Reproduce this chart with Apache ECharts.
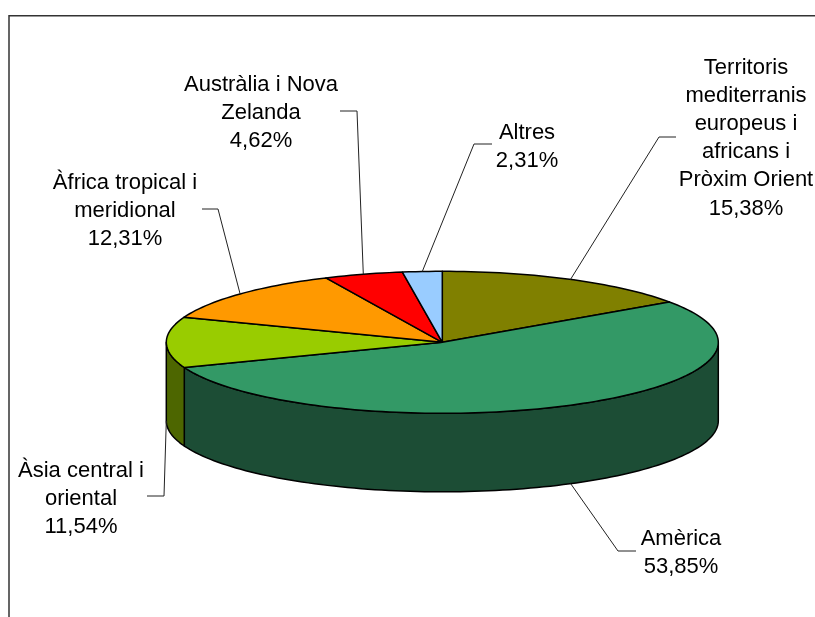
<!DOCTYPE html>
<html>
<head>
<meta charset="utf-8">
<style>html,body{margin:0;padding:0;background:#fff}#chart{width:815px;height:617px}</style>
<script src="https://cdn.jsdelivr.net/npm/echarts@6/dist/echarts.min.js"></script>
</head>
<body>
<div id="chart"></div>
<script>
// Share of each region, clockwise from the top of the disc
const categories = [
  'Territoris\nmediterranis\neuropeus i\nafricans i\nPròxim Orient',
  'Amèrica',
  'Àsia central i\noriental',
  'Àfrica tropical i\nmeridional',
  'Austràlia i Nova\nZelanda',
  'Altres'
];
const shares = [15.38, 53.85, 11.54, 12.31, 4.62, 2.31];
const shareLabels = ['15,38%', '53,85%', '11,54%', '12,31%', '4,62%', '2,31%'];

const topColors = ['#808000', '#339966', '#99CC00', '#FF9900', '#FF0000', '#99CCFF'];
const wallColors = ['#404000', '#1C4D35', '#4D6600', '#804D00', '#800000', '#4D6680'];

// Disc geometry in pixels
const disc = { cx: 442.3, cy: 342.3, rx: 276, ry: 71, depth: 78.5 };

// Label centre and leader elbow/end for each slice
const labelCentres = [[746, 138], [681, 553], [81, 499], [125, 211], [261, 113], [527, 147]];
const leaderBends = [
  [[659, 137], [676, 137]],
  [[618, 551], [636, 551]],
  [[164, 496], [147, 496]],
  [[218, 209], [202, 209]],
  [[357, 111], [340, 111]],
  [[474, 144], [492, 144]]
];

const total = shares.reduce((a, b) => a + b, 0);

function rimPoint(deg, drop) {
  const t = deg * Math.PI / 180;
  return [disc.cx + disc.rx * Math.sin(t), disc.cy - disc.ry * Math.cos(t) + (drop || 0)];
}

function arc(from, to, drop) {
  const pts = [];
  const n = Math.max(2, Math.ceil(Math.abs(to - from) / 1.5));
  for (let i = 0; i <= n; i++) pts.push(rimPoint(from + (to - from) * i / n, drop));
  return pts;
}

function renderSlice(params, api) {
  const i = params.dataIndex;
  let before = 0;
  for (let k = 0; k < i; k++) before += shares[k];
  const start = before / total * 360;
  const end = start + api.value(0) / total * 360;
  const mid = (start + end) / 2;
  const edge = { stroke: '#000', lineWidth: 1.5, lineJoin: 'round' };
  const children = [];

  // Side wall: only the part of the rim facing the viewer (90°..270°)
  const wallFrom = Math.max(start, 90);
  const wallTo = Math.min(end, 270);
  if (wallTo > wallFrom) {
    const lower = arc(wallTo, wallFrom, disc.depth);
    children.push({
      type: 'polygon',
      shape: { points: arc(wallFrom, wallTo, 0).concat(lower) },
      style: Object.assign({ fill: wallColors[i] }, edge)
    });
  }

  // Top face
  children.push({
    type: 'polygon',
    shape: { points: [[disc.cx, disc.cy]].concat(arc(start, end, 0)) },
    style: Object.assign({ fill: topColors[i] }, edge)
  });

  // Leader line anchored on the middle of the slice's outer edge
  const onFront = mid > 90 && mid < 270;
  children.push({
    type: 'polyline',
    shape: { points: [rimPoint(mid, onFront ? disc.depth : 0)].concat(leaderBends[i]) },
    style: { stroke: '#222', lineWidth: 1, fill: null }
  });

  // Label
  children.push({
    type: 'text',
    style: {
      text: categories[i] + '\n' + shareLabels[i],
      x: labelCentres[i][0],
      y: labelCentres[i][1],
      align: 'center',
      verticalAlign: 'middle',
      fill: '#000',
      font: '22px "Liberation Sans", Arial, sans-serif',
      lineHeight: 28.2
    }
  });

  return { type: 'group', children };
}

const chart = echarts.init(document.getElementById('chart'), null, { renderer: 'canvas' });
chart.setOption({
  animation: false,
  backgroundColor: '#fff',
  graphic: [{
    type: 'polyline',
    silent: true,
    shape: { points: [[9, 617], [9, 15.75], [815, 15.75]] },
    style: { stroke: '#333', lineWidth: 1.5, fill: null }
  }],
  series: [{
    type: 'custom',
    coordinateSystem: 'none',
    silent: true,
    renderItem: renderSlice,
    data: shares.map(v => [v])
  }]
});
</script>
</body>
</html>
